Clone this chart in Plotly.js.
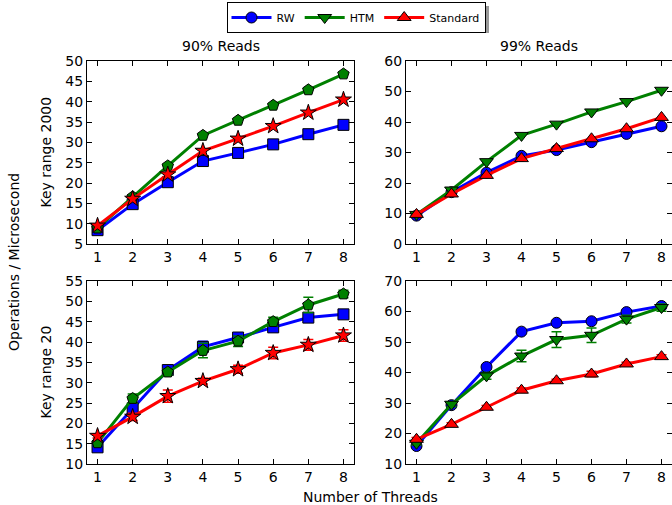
<!DOCTYPE html>
<html>
<head>
<meta charset="utf-8">
<script src="https://cdn.plot.ly/plotly-3.0.1.min.js"></script>
<style>html,body{margin:0;padding:0;background:#fff;}#chart{width:672px;height:505px;}</style>
</head>
<body>
<div id="chart"></div>
<script>
const threads = [1, 2, 3, 4, 5, 6, 7, 8];
const seriesNames = ["RW", "HTM", "Standard"];
const panelTitles = ["90% Reads", "99% Reads"];
const rowTitles = ["Key range 2000", "Key range 20"];

// Key range 2000, 90% reads
const k2000_r90_rw  = [8.4, 14.8, 20.2, 25.4, 27.4, 29.5, 32.0, 34.3];
const k2000_r90_htm = [8.9, 16.6, 24.2, 31.7, 35.4, 39.1, 42.9, 46.8];
const k2000_r90_std = [9.5, 16.1, 22.1, 27.9, 30.9, 34.0, 37.3, 40.5];
// Key range 2000, 99% reads
const k2000_r99_rw  = [9.3, 17.0, 23.4, 28.9, 30.8, 33.4, 36.1, 38.6];
const k2000_r99_htm = [9.7, 17.7, 27.0, 35.6, 39.3, 43.3, 46.7, 50.4];
const k2000_r99_std = [9.7, 16.4, 22.5, 28.0, 31.3, 34.5, 37.8, 41.5];
// Key range 20, 90% reads
const k20_r90_rw  = [14.1, 23.7, 33.1, 38.8, 41.1, 43.6, 46.0, 46.8];
const k20_r90_htm = [15.2, 26.1, 32.6, 37.9, 40.2, 45.0, 49.1, 51.8];
const k20_r90_std = [16.9, 21.6, 26.7, 30.4, 33.3, 37.3, 39.3, 41.6];
const k20_r90_rw_err  = [0.6, 0.8, 0.8, 1.4, 0.8, 1.0, 0.8, 0.6];
const k20_r90_htm_err = [0.6, 1.1, 0.8, 1.8, 1.3, 1.1, 1.9, 0.9];
const k20_r90_std_err = [0.5, 0.9, 1.5, 0.7, 1.0, 1.4, 1.3, 1.4];
// Key range 20, 99% reads
const k20_r99_rw  = [15.9, 29.3, 41.8, 53.4, 56.3, 56.8, 59.8, 61.8];
const k20_r99_htm = [16.8, 29.6, 38.9, 45.4, 50.8, 52.2, 57.5, 61.3];
const k20_r99_std = [18.1, 23.0, 28.6, 34.2, 37.3, 39.5, 42.8, 45.2];
const k20_r99_rw_err  = [0.5, 0.6, 0.7, 0.6, 0.6, 0.5, 0.6, 0.8];
const k20_r99_htm_err = [0.6, 0.8, 1.1, 1.9, 2.6, 2.4, 1.3, 1.2];
const k20_r99_std_err = [0.6, 0.5, 0.6, 0.7, 0.5, 0.9, 0.6, 0.6];

const colors = ["#0000ff", "#008000", "#ff0000"];

function tr(y, err, ci, symbol, size, xa, ya, showlegend) {
  const t = {
    x: threads, y: y, type: "scatter", mode: "lines+markers",
    name: seriesNames[ci], legendgroup: seriesNames[ci], showlegend: showlegend,
    xaxis: xa, yaxis: ya,
    line: {color: colors[ci], width: 3},
    marker: {color: colors[ci], symbol: symbol, size: size, line: {color: "#000", width: 1}}
  };
  if (err) {
    t.error_y = {type: "data", array: err, visible: true, color: colors[ci], thickness: 1.5, width: 5};
  }
  return t;
}

const data = [
  tr(k2000_r90_rw, null, 0, "square", 11, "x", "y", false),
  tr(k2000_r90_htm, null, 1, "pentagon", 12, "x", "y", false),
  tr(k2000_r90_std, null, 2, "star", 12, "x", "y", false),
  tr(k2000_r99_rw, null, 0, "circle", 11, "x2", "y2", true),
  tr(k2000_r99_htm, null, 1, "triangle-down", 12, "x2", "y2", true),
  tr(k2000_r99_std, null, 2, "triangle-up", 12, "x2", "y2", true),
  tr(k20_r90_rw, k20_r90_rw_err, 0, "square", 11, "x3", "y3", false),
  tr(k20_r90_htm, k20_r90_htm_err, 1, "pentagon", 12, "x3", "y3", false),
  tr(k20_r90_std, k20_r90_std_err, 2, "star", 12, "x3", "y3", false),
  tr(k20_r99_rw, k20_r99_rw_err, 0, "circle", 11, "x4", "y4", false),
  tr(k20_r99_htm, k20_r99_htm_err, 1, "triangle-down", 12, "x4", "y4", false),
  tr(k20_r99_std, k20_r99_std_err, 2, "triangle-up", 12, "x4", "y4", false)
];

const W = 672, H = 505;
const px = v => v / W;
const py = v => 1 - v / H;
const font = {family: "DejaVu Sans", size: 14, color: "#000"};

function xax(domain, anchor) {
  return {domain: domain, anchor: anchor, range: [0.7, 8.3], tickvals: threads,
    showline: true, mirror: "allticks", linecolor: "#000", linewidth: 1,
    ticks: "inside", ticklen: 5, tickcolor: "#000", showgrid: false, zeroline: false,
    tickfont: font, fixedrange: true};
}
function yax(domain, anchor, range, dtick) {
  return {domain: domain, anchor: anchor, range: range, dtick: dtick, tick0: 0,
    showline: true, mirror: "allticks", linecolor: "#000", linewidth: 1,
    ticks: "inside", ticklen: 5, tickcolor: "#000", showgrid: false, zeroline: false,
    tickfont: font, fixedrange: true};
}

const colL = [px(87), px(354)], colR = [px(406), 1];
const rowT = [py(244), py(61)], rowB = [py(464), py(281)];

function ann(text, x, y, angle) {
  return {text: text, xref: "paper", yref: "paper", x: px(x), y: py(y),
    xanchor: "center", yanchor: "middle", textangle: angle || 0, showarrow: false, font: font};
}

const layout = {
  width: W, height: H,
  margin: {l: 0, r: 0, t: 0, b: 0},
  paper_bgcolor: "#fff", plot_bgcolor: "#fff",
  font: font,
  showlegend: true,
  legend: {orientation: "h", x: px(356), xanchor: "center", y: py(2), yanchor: "top",
    bgcolor: "#fff", bordercolor: "#000", borderwidth: 1,
    font: {family: "DejaVu Sans", size: 11, color: "#000"}, itemwidth: 40},
  xaxis: xax(colL, "y"), yaxis: yax(rowT, "x", [5, 50], 5),
  xaxis2: xax(colR, "y2"), yaxis2: yax(rowT, "x2", [0, 60], 10),
  xaxis3: xax(colL, "y3"), yaxis3: yax(rowB, "x3", [10, 55], 5),
  xaxis4: xax(colR, "y4"), yaxis4: yax(rowB, "x4", [10, 70], 10),
  shapes: [
    {type: "rect", xref: "paper", yref: "paper", x0: px(229), x1: px(489), y0: py(33), y1: py(6),
     fillcolor: "#999", line: {width: 0}, layer: "below"}
  ],
  annotations: [
    ann(panelTitles[0], 220.5, 46),
    ann(panelTitles[1], 539, 46),
    ann(rowTitles[0], 45, 152.5, -90),
    ann(rowTitles[1], 45, 372.5, -90),
    ann("Operations / Microsecond", 14, 262, -90),
    ann("Number of Threads", 370, 497)
  ]
};

Plotly.newPlot("chart", data, layout, {staticPlot: true, displayModeBar: false});
</script>
</body>
</html>
